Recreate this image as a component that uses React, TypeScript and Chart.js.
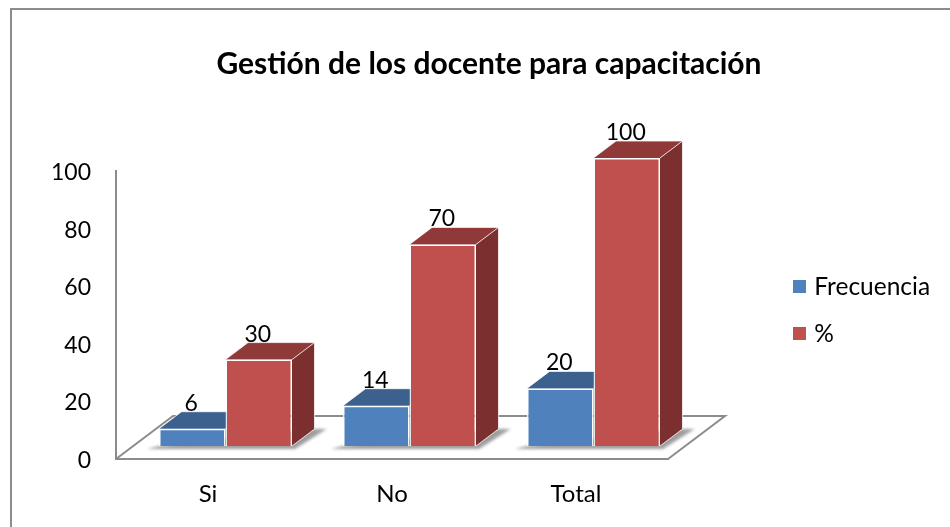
import React, { useEffect, useRef } from "react";
import { Chart, registerables } from "chart.js";

Chart.register(...registerables);

const categories = ["Si", "No", "Total"];
const frecuencia = [6, 14, 20];
const porcentaje = [30, 70, 100];
const titleText = "Gestión de los docente para capacitación";
const seriesNames = ["Frecuencia", "%"];
const yTicks = { min: 0, max: 100, step: 20 };

const FONT = "Lato";
const AXIS = "#8c8c8c";
const FRONT = ["#4f81bd", "#c0504d"];
const TOP = ["#3c618e", "#8f3938"];
const SIDE = ["#33527a", "#7b302f"];

const FRONT_DX = 17.5;
const FRONT_DY = -13;
const DEPTH_DX = 22.5;
const DEPTH_DY = -17;
const FLOOR_DX = 57;
const FLOOR_DY = -43;

const poly = (ctx: CanvasRenderingContext2D, pts: number[][], fill?: string) => {
  ctx.beginPath();
  pts.forEach(([x, y], i) => (i ? ctx.lineTo(x, y) : ctx.moveTo(x, y)));
  ctx.closePath();
  if (fill) {
    ctx.fillStyle = fill;
    ctx.fill();
  }
};

const swatch = (color: string) => {
  const c = document.createElement("canvas");
  c.width = 17;
  c.height = 13;
  const g = c.getContext("2d")!;
  g.fillStyle = color;
  g.fillRect(4, 0, 13, 13);
  return c;
};

const threeD = {
  id: "threeD",
  beforeLayout(chart: any) {
    const l = chart.legend;
    if (l && !l.__patched) {
      const fit = l.fit;
      l.fit = function () {
        fit.call(this);
        this.width = 282;
      };
      l.__patched = true;
    }
  },
  afterLayout(chart: any) {
    const l = chart.legend;
    const pad = chart.options.plugins.legend.labels.padding;
    l.left = 793 - pad;
    l.right = 950;
    l.top = 252;
    l.bottom = 527;
    chart.scales.y.getLabelItems(chart.chartArea).forEach((it: any) => {
      it.options.translation[1] += 1.5;
    });
  },
  beforeDraw(chart: any) {
    const ctx: CanvasRenderingContext2D = chart.ctx;
    ctx.save();
    ctx.strokeStyle = AXIS;
    ctx.lineWidth = 2;
    ctx.beginPath();
    ctx.moveTo(11, 527);
    ctx.lineTo(11, 9);
    ctx.lineTo(950, 9);
    ctx.stroke();
    ctx.restore();
  },
  beforeDatasetsDraw(chart: any) {
    const ctx: CanvasRenderingContext2D = chart.ctx;
    const { left, right, bottom } = chart.chartArea;
    ctx.save();
    ctx.strokeStyle = AXIS;
    ctx.lineWidth = 2;
    ctx.beginPath();
    ctx.moveTo(left, bottom);
    ctx.lineTo(left + FLOOR_DX, bottom + FLOOR_DY);
    ctx.lineTo(right + FLOOR_DX, bottom + FLOOR_DY);
    ctx.lineTo(right, bottom);
    ctx.stroke();

    const m0 = chart.getDatasetMeta(0).data;
    const m1 = chart.getDatasetMeta(1).data;
    ctx.save();
    ctx.filter = "blur(1.5px)";
    m0.forEach((b0: any, i: number) => {
      const b1 = m1[i];
      const x0 = b0.x - b0.width / 2 + FRONT_DX;
      const x1 = b1.x + b1.width / 2 + FRONT_DX;
      const y = bottom + FRONT_DY;
      poly(
        ctx,
        [
          [x0 - 12, y + 3],
          [x1 + 3, y + 3],
          [x1 + DEPTH_DX + 12, y + DEPTH_DY],
          [x1 + DEPTH_DX, y + DEPTH_DY],
          [x0, y],
        ],
        "rgba(125,125,125,0.75)"
      );
    });
    ctx.restore();

    [0, 1].forEach((ds) => {
      chart.getDatasetMeta(ds).data.forEach((b: any) => {
        const x0 = b.x - b.width / 2 + FRONT_DX;
        const x1 = b.x + b.width / 2 + FRONT_DX;
        const yT = b.y + FRONT_DY;
        const yB = b.base + FRONT_DY;
        poly(
          ctx,
          [
            [x0, yT],
            [x0 + DEPTH_DX, yT + DEPTH_DY],
            [x1 + DEPTH_DX, yT + DEPTH_DY],
            [x1, yT],
          ],
          TOP[ds]
        );
        poly(
          ctx,
          [
            [x1, yT],
            [x1 + DEPTH_DX, yT + DEPTH_DY],
            [x1 + DEPTH_DX, yB + DEPTH_DY],
            [x1, yB],
          ],
          SIDE[ds]
        );
        ctx.strokeStyle = "rgba(255,255,255,0.75)";
        ctx.lineWidth = 1;
        ctx.beginPath();
        ctx.moveTo(x0, yT);
        ctx.lineTo(x0 + DEPTH_DX, yT + DEPTH_DY);
        ctx.lineTo(x1 + DEPTH_DX, yT + DEPTH_DY);
        ctx.lineTo(x1 + DEPTH_DX, yB + DEPTH_DY);
        ctx.lineTo(x1, yB);
        ctx.moveTo(x1, yT);
        ctx.lineTo(x1 + DEPTH_DX, yT + DEPTH_DY);
        ctx.stroke();
      });
    });
    ctx.restore();
    ctx.save();
    ctx.translate(FRONT_DX, FRONT_DY);
  },
  afterDatasetsDraw(chart: any) {
    const ctx: CanvasRenderingContext2D = chart.ctx;
    ctx.restore();
    ctx.save();
    ctx.fillStyle = "#000";
    ctx.font = `23px ${FONT}`;
    ctx.textAlign = "center";
    ctx.textBaseline = "middle";
    chart.data.datasets.forEach((d: any, ds: number) => {
      chart.getDatasetMeta(ds).data.forEach((b: any, i: number) => {
        ctx.fillText(String(d.data[i]), b.x + FRONT_DX - 1, b.y + FRONT_DY - 25.5);
      });
    });
    ctx.restore();
  },
};

export default function App() {
  const ref = useRef<HTMLCanvasElement>(null);
  useEffect(() => {
    const swatches = FRONT.map(swatch);
    const chart = new Chart(ref.current!, {
      type: "bar",
      data: {
        labels: categories,
        datasets: [
          { label: seriesNames[0], data: frecuencia, backgroundColor: FRONT[0], borderColor: "rgba(255,255,255,0.85)", borderWidth: 1.5 },
          { label: seriesNames[1], data: porcentaje, backgroundColor: FRONT[1], borderColor: "rgba(255,255,255,0.85)", borderWidth: 1.5 },
        ],
      },
      options: {
        responsive: false,
        animation: false,
        layout: { padding: { left: 28, right: 0, top: 0, bottom: 0 } },
        datasets: { bar: { categoryPercentage: 0.7228, barPercentage: 1 } },
        plugins: {
          tooltip: { enabled: false },
          title: {
            display: true,
            text: titleText,
            color: "#000",
            font: { family: FONT, size: 30, weight: "bold", lineHeight: 1.2 },
            padding: { top: 46, bottom: 89 },
          },
          legend: {
            position: "right",
            align: "start",
            labels: {
              color: "#000",
              font: { family: FONT, size: 24.5 },
              usePointStyle: true,
              pointStyleWidth: 9,
              boxHeight: 13,
              padding: 22.5,
              generateLabels: (c: any) =>
                (Chart.defaults as any).plugins.legend.labels
                  .generateLabels(c)
                  .map((it: any, i: number) => ({ ...it, pointStyle: swatches[i] })),
            },
          },
        },
        scales: {
          x: {
            grid: { display: false, drawTicks: false },
            border: { display: true, color: AXIS, width: 2 },
            ticks: { color: "#000", font: { family: FONT, size: 24 }, padding: 21, maxRotation: 0 },
            afterFit: (s: any) => {
              s.height = 68;
            },
          },
          y: {
            min: yTicks.min,
            max: yTicks.max,
            grid: { display: false, drawTicks: false },
            border: { display: true, color: AXIS, width: 2 },
            ticks: { stepSize: yTicks.step, color: "#000", font: { family: FONT, size: 23 }, padding: 25 },
            afterFit: (s: any) => {
              s.width = 88;
            },
          },
        },
      },
      plugins: [threeD],
    } as any);
    return () => chart.destroy();
  }, []);
  return (
    <div style={{ position: "absolute", left: 0, top: 0, width: 950, height: 527, background: "#fff" }}>
      <canvas ref={ref} width={950} height={527} style={{ display: "block" }} />
    </div>
  );
}
